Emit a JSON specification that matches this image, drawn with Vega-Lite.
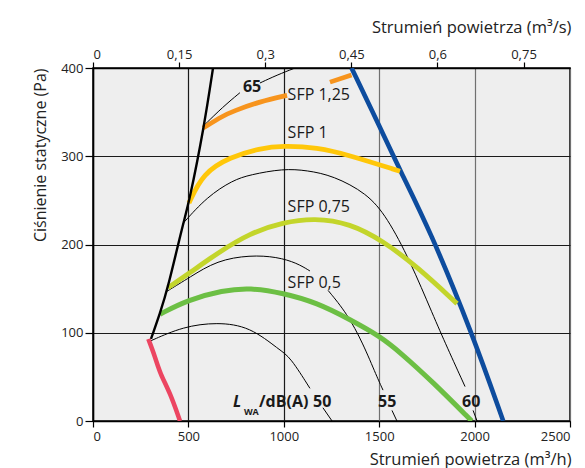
{
  "$schema": "https://vega.github.io/schema/vega-lite/v6.json",
  "width": 477,
  "height": 353,
  "autosize": {"type": "none"},
  "padding": {"left": 93, "top": 68, "right": 15, "bottom": 47},
  "background": "white",
  "config": {
    "font": "Open Sans",
    "view": {"fill": "#eeeeee", "stroke": "#000000", "strokeWidth": 1.5},
    "axis": {"labelFont": "Open Sans", "titleFont": "Open Sans", "labelColor": "#222222", "titleColor": "#222222", "titleFontWeight": "normal", "domainColor": "#000000", "domainWidth": 1.5, "tickColor": "#000000", "tickWidth": 1.2}
  },
  "datasets": {
    "curves": [
      {"s": "bound", "g": "b", "x": 304, "y": 93},
      {"s": "bound", "g": "b", "x": 351, "y": 122},
      {"s": "bound", "g": "b", "x": 393, "y": 151},
      {"s": "bound", "g": "b", "x": 472, "y": 224},
      {"s": "bound", "g": "b", "x": 503, "y": 247},
      {"s": "bound", "g": "b", "x": 582, "y": 333},
      {"s": "bound", "g": "b", "x": 629, "y": 400},

      {"s": "red", "g": "r", "x": 290, "y": 93},
      {"s": "red", "g": "r", "x": 325, "y": 73},
      {"s": "red", "g": "r", "x": 351, "y": 54},
      {"s": "red", "g": "r", "x": 404, "y": 32},
      {"s": "red", "g": "r", "x": 456, "y": 0},

      {"s": "blue", "g": "bl", "x": 1355, "y": 400},
      {"s": "blue", "g": "bl", "x": 1504, "y": 333},
      {"s": "blue", "g": "bl", "x": 1609, "y": 284},
      {"s": "blue", "g": "bl", "x": 1766, "y": 216},
      {"s": "blue", "g": "bl", "x": 1986, "y": 100},
      {"s": "blue", "g": "bl", "x": 2150, "y": 0},

      {"s": "orange", "g": "o1", "x": 577, "y": 332},
      {"s": "orange", "g": "o1", "x": 683, "y": 346},
      {"s": "orange", "g": "o1", "x": 734, "y": 351},
      {"s": "orange", "g": "o1", "x": 875, "y": 362},
      {"s": "orange", "g": "o1", "x": 1017, "y": 369},
      {"s": "orange", "g": "o2", "x": 1242, "y": 384},
      {"s": "orange", "g": "o2", "x": 1355, "y": 392},

      {"s": "yellow", "g": "y", "x": 503, "y": 247},
      {"s": "yellow", "g": "y", "x": 577, "y": 281},
      {"s": "yellow", "g": "y", "x": 718, "y": 299},
      {"s": "yellow", "g": "y", "x": 875, "y": 309},
      {"s": "yellow", "g": "y", "x": 996, "y": 312},
      {"s": "yellow", "g": "y", "x": 1174, "y": 310},
      {"s": "yellow", "g": "y", "x": 1347, "y": 301},
      {"s": "yellow", "g": "y", "x": 1609, "y": 283},

      {"s": "lime", "g": "l", "x": 393, "y": 151},
      {"s": "lime", "g": "l", "x": 508, "y": 168},
      {"s": "lime", "g": "l", "x": 650, "y": 190},
      {"s": "lime", "g": "l", "x": 823, "y": 213},
      {"s": "lime", "g": "l", "x": 996, "y": 225},
      {"s": "lime", "g": "l", "x": 1160, "y": 230},
      {"s": "lime", "g": "l", "x": 1347, "y": 224},
      {"s": "lime", "g": "l", "x": 1520, "y": 204},
      {"s": "lime", "g": "l", "x": 1698, "y": 175},
      {"s": "lime", "g": "l", "x": 1908, "y": 133},

      {"s": "green", "g": "gr", "x": 351, "y": 121},
      {"s": "green", "g": "gr", "x": 493, "y": 137},
      {"s": "green", "g": "gr", "x": 681, "y": 148},
      {"s": "green", "g": "gr", "x": 823, "y": 151},
      {"s": "green", "g": "gr", "x": 996, "y": 145},
      {"s": "green", "g": "gr", "x": 1174, "y": 134},
      {"s": "green", "g": "gr", "x": 1347, "y": 115},
      {"s": "green", "g": "gr", "x": 1504, "y": 96},
      {"s": "green", "g": "gr", "x": 1609, "y": 78},
      {"s": "green", "g": "gr", "x": 1782, "y": 44},
      {"s": "green", "g": "gr", "x": 1985, "y": 0},

      {"s": "thin", "g": "a1", "x": 304, "y": 91},
      {"s": "thin", "g": "a1", "x": 472, "y": 107},
      {"s": "thin", "g": "a1", "x": 650, "y": 112},
      {"s": "thin", "g": "a1", "x": 823, "y": 107},
      {"s": "thin", "g": "a1", "x": 980, "y": 80},
      {"s": "thin", "g": "a1", "x": 1032, "y": 73},
      {"s": "thin", "g": "a1", "x": 1137, "y": 37},
      {"s": "thin", "g": "a2", "x": 1205, "y": 15},
      {"s": "thin", "g": "a2", "x": 1253, "y": 0},

      {"s": "thin", "g": "b1", "x": 388, "y": 147},
      {"s": "thin", "g": "b1", "x": 508, "y": 163},
      {"s": "thin", "g": "b1", "x": 650, "y": 182},
      {"s": "thin", "g": "b1", "x": 823, "y": 188},
      {"s": "thin", "g": "b1", "x": 964, "y": 186},
      {"s": "thin", "g": "b1", "x": 1069, "y": 179},
      {"s": "thin", "g": "b1", "x": 1137, "y": 170},
      {"s": "thin", "g": "b2", "x": 1232, "y": 148},
      {"s": "thin", "g": "b2", "x": 1331, "y": 122},
      {"s": "thin", "g": "b2", "x": 1415, "y": 88},
      {"s": "thin", "g": "b2", "x": 1488, "y": 50},
      {"s": "thin", "g": "b2", "x": 1520, "y": 35},
      {"s": "thin", "g": "b3", "x": 1567, "y": 12},
      {"s": "thin", "g": "b3", "x": 1593, "y": 0},

      {"s": "thin", "g": "c1", "x": 472, "y": 224},
      {"s": "thin", "g": "c1", "x": 597, "y": 254},
      {"s": "thin", "g": "c1", "x": 734, "y": 273},
      {"s": "thin", "g": "c1", "x": 823, "y": 279},
      {"s": "thin", "g": "c1", "x": 996, "y": 286},
      {"s": "thin", "g": "c1", "x": 1122, "y": 284},
      {"s": "thin", "g": "c1", "x": 1258, "y": 278},
      {"s": "thin", "g": "c1", "x": 1436, "y": 258},
      {"s": "thin", "g": "c1", "x": 1541, "y": 231},
      {"s": "thin", "g": "c1", "x": 1661, "y": 182},
      {"s": "thin", "g": "c1", "x": 1782, "y": 120},
      {"s": "thin", "g": "c1", "x": 1855, "y": 84},
      {"s": "thin", "g": "c1", "x": 1950, "y": 39},
      {"s": "thin", "g": "c2", "x": 1992, "y": 12},
      {"s": "thin", "g": "c2", "x": 2013, "y": 0},

      {"s": "thin", "g": "d1", "x": 582, "y": 335},
      {"s": "thin", "g": "d1", "x": 681, "y": 356},
      {"s": "thin", "g": "d1", "x": 770, "y": 372},
      {"s": "thin", "g": "d2", "x": 875, "y": 383},
      {"s": "thin", "g": "d2", "x": 964, "y": 392},
      {"s": "thin", "g": "d2", "x": 1059, "y": 400}
    ],
    "sfp": [
      {"t": "SFP 1,25", "x": 1020, "y": 364},
      {"t": "SFP 1", "x": 1020, "y": 321},
      {"t": "SFP 0,75", "x": 1020, "y": 237},
      {"t": "SFP 0,5", "x": 1020, "y": 151}
    ],
    "bold": [
      {"t": "65", "x": 786, "y": 373},
      {"t": "/dB(A)", "x": 870, "y": 16},
      {"t": "50", "x": 1153, "y": 16},
      {"t": "55", "x": 1494, "y": 16},
      {"t": "60", "x": 1934, "y": 16}
    ]
  },
  "layer": [
    {
      "data": {"values": [{"q": 0}, {"q": 0.75}]},
      "mark": {"type": "point", "opacity": 0},
      "encoding": {
        "x": {
          "field": "q", "type": "quantitative",
          "scale": {"domain": [0, 0.831], "nice": false, "zero": false},
          "axis": {
            "orient": "top", "values": [0, 0.15, 0.3, 0.45, 0.6, 0.75],
            "labelExpr": "replace(toString(datum.value), '.', ',')",
            "grid": false, "tickSize": 6, "labelFontSize": 13, "labelPadding": 1,
            "title": "Strumień powietrza (m³/s)", "titleX": 478, "titleAlign": "right", "titleFontSize": 16.5, "titlePadding": 13
          }
        }
      }
    },
    {
      "layer": [
        {
          "data": {"name": "curves"},
          "transform": [{"filter": "datum.s == 'thin'"}],
          "mark": {"type": "line", "interpolate": "basis", "color": "#000000", "strokeWidth": 1, "clip": true},
          "encoding": {
            "x": {
              "field": "x", "type": "quantitative",
              "scale": {"domain": [0, 2500], "nice": false},
              "axis": {
                "values": [0, 500, 1000, 1500, 2000, 2500], "format": "d", "grid": true,
                "gridColor": {"condition": {"test": "datum.value >= 1500", "value": "#707070"}, "value": "#1a1a1a"},
                "gridWidth": 1.2, "tickSize": 6, "labelFontSize": 13, "labelPadding": 3,
                "title": "Strumień powietrza (m³/h)", "titleX": 478, "titleAlign": "right", "titleFontSize": 16.5, "titlePadding": 8
              }
            },
            "y": {
              "field": "y", "type": "quantitative",
              "scale": {"domain": [0, 400], "nice": false},
              "axis": {
                "values": [0, 100, 200, 300, 400], "grid": true, "gridColor": "#1a1a1a", "gridWidth": 1.2,
                "tickSize": 8, "labelFontSize": 13, "labelPadding": 2,
                "title": "Ciśnienie statyczne (Pa)", "titleAnchor": "end", "titleFontSize": 16, "titlePadding": 12
              }
            },
            "detail": {"field": "g"}
          }
        },
        {
          "data": {"name": "curves"},
          "transform": [{"filter": "datum.s != 'thin' && datum.s != 'bound'"}],
          "mark": {"type": "line", "interpolate": "basis", "clip": true, "strokeCap": "butt"},
          "encoding": {
            "x": {"field": "x", "type": "quantitative"},
            "y": {"field": "y", "type": "quantitative"},
            "detail": {"field": "g"},
            "strokeWidth": {
              "field": "s", "type": "nominal", "legend": null,
              "scale": {"domain": ["red", "blue", "orange", "yellow", "lime", "green"], "range": [4.5, 5, 4.2, 4.2, 4.2, 4.2]}
            },
            "color": {
              "field": "s", "type": "nominal", "legend": null,
              "scale": {"domain": ["red", "blue", "orange", "yellow", "lime", "green"], "range": ["#ec4561", "#0d4c9e", "#f7941d", "#ffc709", "#c3d52b", "#6cbf44"]}
            }
          }
        },
        {
          "data": {"name": "curves"},
          "transform": [{"filter": "datum.s == 'bound'"}],
          "mark": {"type": "line", "interpolate": "basis", "color": "#000000", "strokeWidth": 2.4, "clip": true},
          "encoding": {
            "x": {"field": "x", "type": "quantitative"},
            "y": {"field": "y", "type": "quantitative"}
          }
        },
        {
          "data": {"name": "sfp"},
          "mark": {"type": "text", "align": "left", "baseline": "alphabetic", "fontSize": 16, "color": "#1a1a1a", "font": "Open Sans"},
          "encoding": {
            "x": {"field": "x", "type": "quantitative"},
            "y": {"field": "y", "type": "quantitative"},
            "text": {"field": "t"}
          }
        },
        {
          "data": {"name": "bold"},
          "mark": {"type": "text", "align": "left", "baseline": "alphabetic", "fontSize": 16, "fontWeight": "bold", "color": "#1a1a1a", "font": "Open Sans"},
          "encoding": {
            "x": {"field": "x", "type": "quantitative"},
            "y": {"field": "y", "type": "quantitative"},
            "text": {"field": "t"}
          }
        },
        {
          "data": {"values": [{"t": "L", "x": 734, "y": 16}]},
          "mark": {"type": "text", "align": "left", "baseline": "alphabetic", "fontSize": 16, "fontWeight": "bold", "fontStyle": "italic", "color": "#1a1a1a", "font": "Open Sans"},
          "encoding": {
            "x": {"field": "x", "type": "quantitative"},
            "y": {"field": "y", "type": "quantitative"},
            "text": {"field": "t"}
          }
        },
        {
          "data": {"values": [{"t": "WA", "x": 791, "y": 7}]},
          "mark": {"type": "text", "align": "left", "baseline": "alphabetic", "fontSize": 9, "fontWeight": "bold", "color": "#1a1a1a", "font": "Open Sans"},
          "encoding": {
            "x": {"field": "x", "type": "quantitative"},
            "y": {"field": "y", "type": "quantitative"},
            "text": {"field": "t"}
          }
        }
      ]
    }
  ],
  "resolve": {"scale": {"x": "independent"}, "axis": {"x": "independent"}}
}
